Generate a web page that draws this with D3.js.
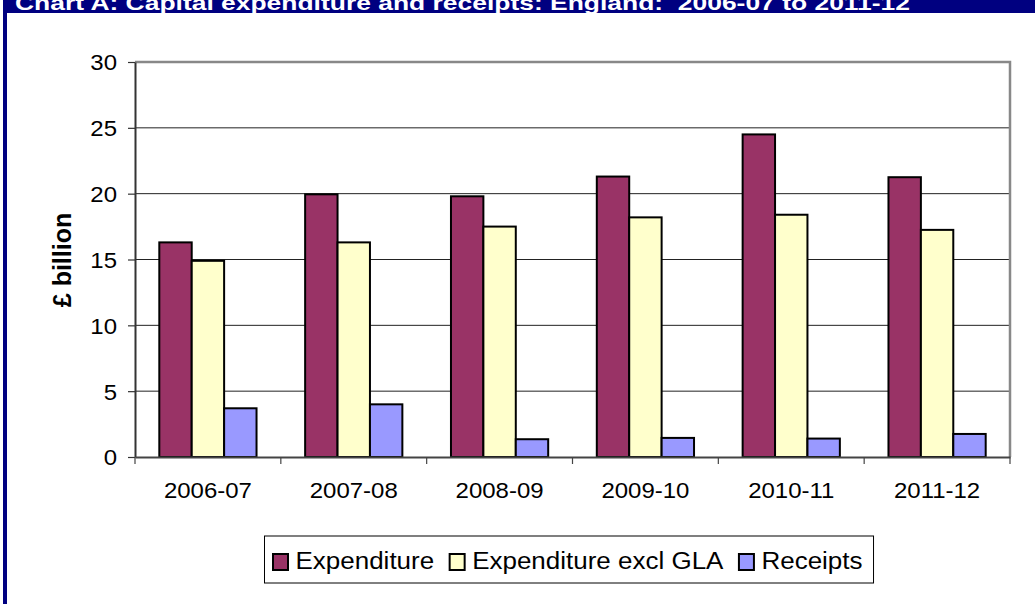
<!DOCTYPE html>
<html>
<head>
<meta charset="utf-8">
<script src="https://cdn.jsdelivr.net/npm/d3@7"></script>
<style>
  body { margin: 0; background: #fff; }
  svg { display: block; font-family: "Liberation Sans", Arial, sans-serif; }
</style>
</head>
<body>
<div id="chart"></div>
<script>
// Data
const categories = ["2006-07", "2007-08", "2008-09", "2009-10", "2010-11", "2011-12"];
const seriesNames = ["Expenditure", "Expenditure excl GLA", "Receipts"];
const expenditure = [16.3, 19.95, 19.8, 21.3, 24.5, 21.25];
const expenditureExclGla = [14.9, 16.3, 17.5, 18.2, 18.4, 17.25];
const receipts = [3.7, 4.0, 1.35, 1.45, 1.4, 1.75];
const yTicks = [0, 5, 10, 15, 20, 25, 30];
const colors = ["#993366", "#FFFFCC", "#9999FF"];

const titleText = "Chart A: Capital expenditure and receipts: England:  2006-07 to 2011-12";

const width = 1035, height = 604;
const plot = { left: 135, right: 1010, top: 62, bottom: 457 };
const stretch = 1.09; // text in the picture is slightly wider than tall

const rows = categories.map((c, i) => ({
  cat: c,
  values: [expenditure[i], expenditureExclGla[i], receipts[i]]
}));

const svg = d3.select("#chart").append("svg")
  .attr("width", width)
  .attr("height", height);

// Frame: left border and title bar
svg.append("rect").attr("x", 3).attr("y", 0).attr("width", 4).attr("height", height).attr("fill", "#000080");
svg.append("rect").attr("x", 3).attr("y", 0).attr("width", width - 3).attr("height", 13).attr("fill", "#000080");
svg.append("text")
  .attr("x", 15).attr("y", 10)
  .attr("fill", "#fff")
  .attr("font-weight", "bold")
  .attr("font-size", 21)
  .attr("textLength", 895)
  .attr("lengthAdjust", "spacingAndGlyphs")
  .style("white-space", "pre")
  .text(titleText);

// Scales
const x0 = d3.scaleBand()
  .domain(categories)
  .range([plot.left, plot.right])
  .padding(0);

const x1 = d3.scaleBand()
  .domain(d3.range(seriesNames.length))
  .range([0, x0.bandwidth()])
  .paddingInner(0)
  .paddingOuter(0.75);

const y = d3.scaleLinear()
  .domain([0, 30])
  .range([plot.bottom, plot.top]);

// Gridlines
svg.append("g")
  .selectAll("line")
  .data(yTicks.filter(d => d > 0 && d < 30))
  .enter().append("line")
  .attr("x1", plot.left).attr("x2", plot.right)
  .attr("y1", d => y(d)).attr("y2", d => y(d))
  .attr("stroke", "#222")
  .attr("stroke-width", 1);

// Plot area top/right border
svg.append("path")
  .attr("d", `M${plot.left},${y(30)}H${plot.right}V${plot.bottom}`)
  .attr("fill", "none")
  .attr("stroke", "#888")
  .attr("stroke-width", 2.5);

// Bars
const groups = svg.append("g")
  .selectAll("g")
  .data(rows)
  .enter().append("g")
  .attr("transform", d => `translate(${x0(d.cat)},0)`);

groups.selectAll("rect")
  .data(d => d.values.map((v, i) => ({ v, i })))
  .enter().append("rect")
  .attr("x", d => x1(d.i))
  .attr("y", d => y(d.v))
  .attr("width", x1.bandwidth())
  .attr("height", d => y(0) - y(d.v))
  .attr("fill", d => colors[d.i])
  .attr("stroke", "#000")
  .attr("stroke-width", 2);

// Y axis
const yAxis = svg.append("g")
  .attr("transform", `translate(${plot.left},0)`)
  .call(d3.axisLeft(y).tickValues(yTicks).tickSize(7).tickSizeOuter(0));

yAxis.select(".domain").attr("stroke", "#333").attr("stroke-width", 2);
yAxis.selectAll(".tick line").attr("stroke", "#333").attr("stroke-width", 1.2);
yAxis.selectAll(".tick text")
  .attr("x", null)
  .attr("dy", "0.36em")
  .attr("transform", `translate(-18,0) scale(${stretch},1)`)
  .attr("font-size", 22)
  .attr("fill", "#000");

// X axis: labels at band centres, ticks at band edges
const xAxis = svg.append("g")
  .attr("transform", `translate(0,${plot.bottom})`)
  .call(d3.axisBottom(x0).tickSize(0).tickSizeOuter(0));

xAxis.select(".domain").attr("stroke", "#444").attr("stroke-width", 2);
xAxis.selectAll(".tick text")
  .attr("y", 0).attr("dy", 0)
  .attr("transform", `translate(0,41) scale(${stretch},1)`)
  .attr("font-size", 22)
  .attr("fill", "#000");

const edges = categories.map(c => x0(c)).concat([plot.right]);
xAxis.selectAll(".edge")
  .data(edges)
  .enter().append("line")
  .attr("class", "edge")
  .attr("x1", d => d).attr("x2", d => d)
  .attr("y1", 0).attr("y2", 7)
  .attr("stroke", "#444")
  .attr("stroke-width", 1.2);

// Y axis title
svg.append("text")
  .attr("transform", "translate(71,260) rotate(-90)")
  .attr("text-anchor", "middle")
  .attr("font-weight", "bold")
  .attr("font-size", 25)
  .text("£ billion");

// Legend
const legend = svg.append("g");
const legendBox = legend.append("rect")
  .attr("y", 536).attr("height", 47)
  .attr("fill", "#fff")
  .attr("stroke", "#000")
  .attr("stroke-width", 1);

let lx = 272;
seriesNames.forEach((name, i) => {
  legend.append("rect")
    .attr("x", lx + 1).attr("y", 554)
    .attr("width", 15).attr("height", 16)
    .attr("fill", colors[i])
    .attr("stroke", "#000")
    .attr("stroke-width", 2);
  const t = legend.append("text")
    .attr("transform", `translate(${lx + 23.5},569) scale(1.13,1)`)
    .attr("font-size", 23)
    .text(name);
  const w = t.node().getComputedTextLength() * 1.13;
  lx = lx + 23.5 + w + 14.5;
});
legendBox.attr("x", 264.5).attr("width", lx - 14.5 + 11 - 264.5);
</script>
</body>
</html>
